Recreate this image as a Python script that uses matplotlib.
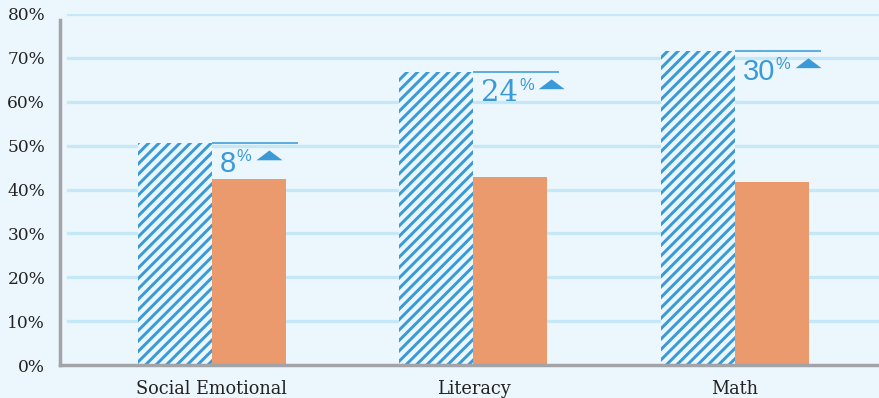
import matplotlib
matplotlib.use("Agg")
import matplotlib.pyplot as plt
import numpy as np
from matplotlib.patches import Polygon
from matplotlib.transforms import IdentityTransform

# --- data ---
categories = ["Social Emotional", "Literacy", "Math"]
hatched_vals = [50.6, 66.8, 71.6]
solid_vals = [42.4, 42.8, 41.7]
gain_labels = ["8", "24", "30"]
gain_fonts = ["Liberation Sans", "DejaVu Serif", "Liberation Sans"]
yticks = [0, 10, 20, 30, 40, 50, 60, 70, 80]

bg = "#ecf7fd"
blue = "#3a9ad7"
orange = "#ea9a6c"
grid_c = "#c5e8f8"
spine_c = "#a3a4a8"
text_c = "#222222"

DPI = 125
plt.rcParams["hatch.linewidth"] = 1.7
plt.rcParams["hatch.color"] = blue

fig = plt.figure(figsize=(879 / DPI, 398 / DPI), dpi=DPI, facecolor=bg)
ax = fig.add_axes([60 / 879, 1 - 365 / 398, 819 / 879, 351 / 398])
ax.set_facecolor(bg)

x = np.arange(len(categories))
w = 0.283
ax.set_xlim(-0.581, 2.551)
ax.set_ylim(0, 80)

# gridlines (start a little right of the axis)
for yv in yticks[1:]:
    ax.axhline(yv, xmin=0.0098, xmax=1, color=grid_c, lw=1.9, zorder=0)

ax.bar(x - w, hatched_vals, w, align="edge", facecolor=bg, edgecolor=blue,
       hatch="////", linewidth=0, zorder=2)
ax.bar(x, solid_vals, w, align="edge", color=orange, linewidth=0, zorder=2)

# line at top of hatched bar
ax.hlines(hatched_vals, x, x + 0.329, color=blue, lw=0.9, zorder=3)

for sp in ["top", "right"]:
    ax.spines[sp].set_visible(False)
for sp in ["left", "bottom"]:
    ax.spines[sp].set_color(spine_c)
    ax.spines[sp].set_linewidth(2.0)
ax.spines["left"].set_bounds(0, 78.6)

ax.set_yticks(yticks)
ax.set_yticklabels(["%d%%" % v for v in yticks], family="DejaVu Serif",
                   fontsize=9.8, color=text_c)
ax.set_xticks(x)
ax.set_xticklabels(categories, family="DejaVu Serif", fontsize=10.2, color=text_c)
ax.tick_params(axis="y", length=0, pad=8.5)
ax.tick_params(axis="x", length=0, pad=8.5)

# gain labels
nums = []
for xi, h, lbl, fam in zip(x, hatched_vals, gain_labels, gain_fonts):
    t = ax.annotate(lbl, xy=(xi, h), xytext=(8, -29), textcoords="offset pixels",
                    ha="left", va="baseline", fontsize=16.8, family=fam,
                    color=blue, zorder=4)
    nums.append(t)

fig.canvas.draw()
r = fig.canvas.get_renderer()
pcts = []
for t, xi, h in zip(nums, x, hatched_vals):
    bb = t.get_window_extent(r)
    ax0 = ax.transData.transform((xi, h))[0]
    p = ax.annotate("%", xy=(xi, h), xytext=(bb.x1 - ax0 + 0.5, -18),
                    textcoords="offset pixels", ha="left", va="baseline",
                    fontsize=9.5, family="Liberation Sans", color=blue, zorder=4)
    pcts.append(p)

fig.canvas.draw()
for p, xi, h in zip(pcts, x, hatched_vals):
    bb = p.get_window_extent(r)
    ly = ax.transData.transform((xi, h))[1]
    L = bb.x1 + 5
    tri = Polygon([(L, ly - 17.3), (L + 26, ly - 17.3), (L + 13, ly - 7.5)],
                  closed=True, facecolor=blue, edgecolor="none",
                  transform=IdentityTransform(), zorder=5)
    fig.add_artist(tri)

fig.savefig("out.png", dpi=DPI, facecolor=bg)
